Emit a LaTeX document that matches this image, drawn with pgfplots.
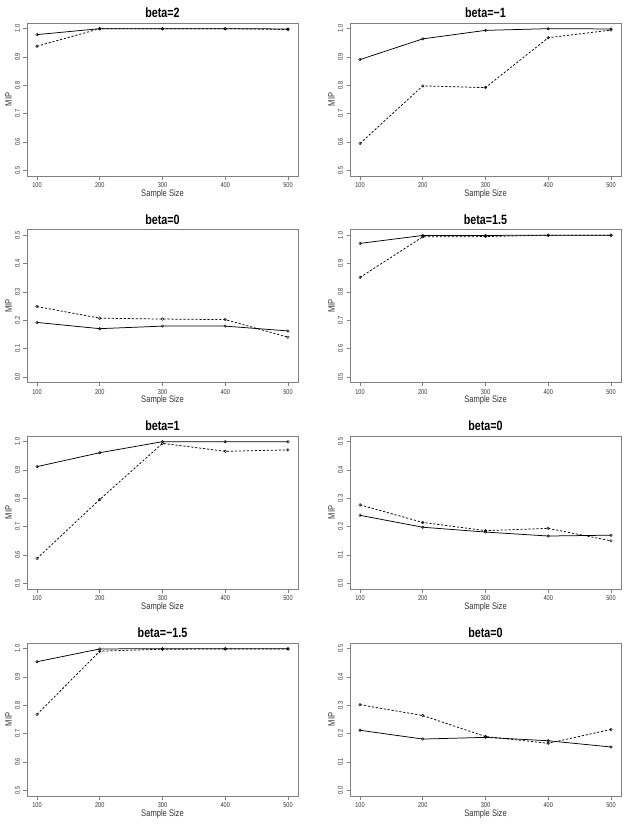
\documentclass[border=0pt]{standalone}
\usepackage{fontspec}
\setmainfont{Liberation Sans}[FakeStretch=0.8]
\usepackage{pgfplots}
\pgfplotsset{compat=1.18}
\definecolor{boxgray}{gray}{0.5}
\definecolor{labgray}{gray}{0.2}
\pgfplotsset{
  mip/.style={
    scale only axis, anchor=north west,
    width=271bp, height=153bp,
    axis line style={boxgray, line width=0.8pt},
    xmin=84, xmax=516,
    xtick={100,200,300,400,500},
    tick pos=left,
    tick align=outside,
    major tick length=3.5bp,
    every tick/.style={boxgray, line width=0.6pt},
    ticklabel style={font=\fontsize{7}{8}\selectfont, text=labgray},
    yticklabel style={rotate=90, anchor=south},
    xticklabel style={anchor=north},
    /pgf/number format/assume math mode=true,
    scaled ticks=false,
    yticklabel={\pgfmathprintnumber[fixed,fixed zerofill,precision=1]{\tick}},
    xlabel={Sample Size}, ylabel={MIP},
    xlabel style={font=\fontsize{9.5}{10}\selectfont, text=labgray, at={(axis description cs:0.5,0)}, anchor=center, yshift=-18bp},
    ylabel style={font=\fontsize{9.5}{10}\selectfont, text=labgray, at={(axis description cs:-0.068,0.5)}, anchor=center, rotate=0},
    title style={font=\bfseries\fontsize{13.5}{14}\selectfont, at={(axis description cs:0.5,1)}, anchor=center, yshift=4bp},
    every axis plot/.append style={black, line width=0.75pt, mark=o, mark size=1.3pt, mark options={solid, line width=0.45pt}},
  },
  hi/.style={mip, ymin=0.48, ymax=1.02, ytick={0.5,0.6,0.7,0.8,0.9,1.0}},
  lo/.style={mip, ymin=-0.02, ymax=0.52, ytick={0,0.1,0.2,0.3,0.4,0.5}},
  sld/.style={solid, black},
  dsh/.style={black, dash pattern=on 2.2pt off 1.8pt},
}
\begin{document}
\begin{tikzpicture}
\useasboundingbox (0,0) rectangle (627bp,-826bp);
% Row 1
\begin{axis}[hi, at={(27bp,-23bp)}, title={beta=2}]
\addplot[sld] coordinates {(100,0.979) (200,1.0) (300,1.0) (400,1.0) (500,0.999)};
\addplot[dsh] coordinates {(100,0.938) (200,1.0) (300,1.0) (400,1.0) (500,0.997)};
\end{axis}
\begin{axis}[hi, at={(350bp,-23bp)}, title={beta=\textminus1}]
\addplot[sld] coordinates {(100,0.891) (200,0.964) (300,0.994) (400,1.0) (500,0.999)};
\addplot[dsh] coordinates {(100,0.595) (200,0.798) (300,0.792) (400,0.968) (500,0.995)};
\end{axis}
% Row 2
\begin{axis}[lo, at={(27bp,-229.5bp)}, title={beta=0}]
\addplot[sld] coordinates {(100,0.192) (200,0.170) (300,0.179) (400,0.179) (500,0.162)};
\addplot[dsh] coordinates {(100,0.248) (200,0.207) (300,0.204) (400,0.202) (500,0.140)};
\end{axis}
\begin{axis}[hi, at={(350bp,-229.5bp)}, title={beta=1.5}]
\addplot[sld] coordinates {(100,0.971) (200,0.999) (300,0.999) (400,1.0) (500,1.0)};
\addplot[dsh] coordinates {(100,0.851) (200,0.994) (300,0.995) (400,1.0) (500,1.0)};
\end{axis}
% Row 3
\begin{axis}[hi, at={(27bp,-436bp)}, title={beta=1}]
\addplot[sld] coordinates {(100,0.912) (200,0.961) (300,1.0) (400,1.0) (500,1.0)};
\addplot[dsh] coordinates {(100,0.588) (200,0.796) (300,0.994) (400,0.966) (500,0.971)};
\end{axis}
\begin{axis}[lo, at={(350bp,-436bp)}, title={beta=0}]
\addplot[sld] coordinates {(100,0.240) (200,0.198) (300,0.181) (400,0.167) (500,0.170)};
\addplot[dsh] coordinates {(100,0.277) (200,0.215) (300,0.186) (400,0.194) (500,0.150)};
\end{axis}
% Row 4
\begin{axis}[hi, at={(27bp,-643bp)}, title={beta=\textminus1.5}]
\addplot[sld] coordinates {(100,0.954) (200,0.999) (300,1.0) (400,1.0) (500,1.0)};
\addplot[dsh] coordinates {(100,0.768) (200,0.991) (300,0.998) (400,0.999) (500,0.999)};
\end{axis}
\begin{axis}[lo, at={(350bp,-643bp)}, title={beta=0}]
\addplot[sld] coordinates {(100,0.212) (200,0.181) (300,0.187) (400,0.175) (500,0.153)};
\addplot[dsh] coordinates {(100,0.302) (200,0.264) (300,0.190) (400,0.166) (500,0.215)};
\end{axis}
\end{tikzpicture}
\end{document}
